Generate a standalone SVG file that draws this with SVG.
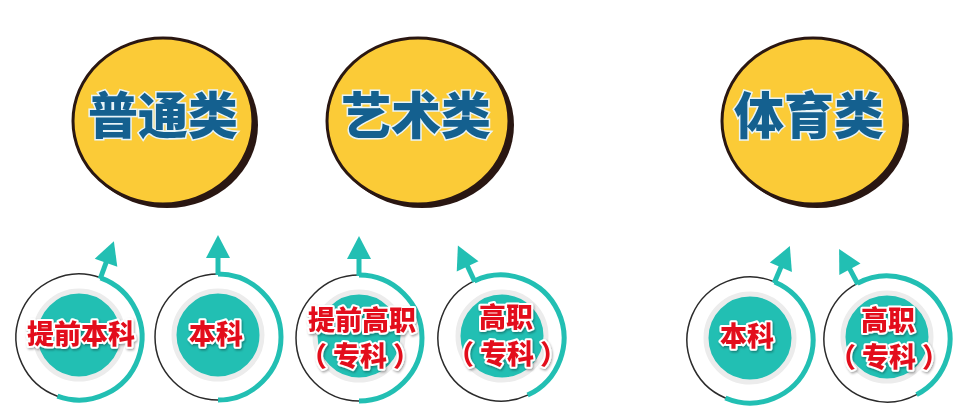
<svg xmlns="http://www.w3.org/2000/svg" xmlns:xlink="http://www.w3.org/1999/xlink" width="971" height="415" viewBox="0 0 971 415">
<style>
.blob{fill:#fbcb37;stroke:#2a1712;stroke-width:3}
.blobsh{fill:#2a1712}
.title{font-family:"Noto Sans CJK SC","Noto Sans",sans-serif;font-weight:900;font-size:50px;fill:#14608f;stroke:#e8f4f8;stroke-width:3;paint-order:stroke;text-anchor:middle}
.lbl{font-family:"Noto Sans CJK SC","Noto Sans",sans-serif;font-weight:900;font-size:27px;fill:#e3111b;stroke:#ffffff;stroke-width:4;paint-order:stroke;stroke-linejoin:round;text-anchor:middle}
.inner{fill:#22bfb3;stroke:#ececec;stroke-width:5}
.teal{stroke:#22bfb3;fill:none;stroke-width:5}
</style>
<defs>
<filter id="sh" x="-10%" y="-10%" width="120%" height="130%">
<feDropShadow dx="1" dy="1.5" stdDeviation="1" flood-color="#000" flood-opacity="0.35"/>
</filter>
<g id="ring">
<circle r="63" fill="none" stroke="#2b2b2b" stroke-width="1.5"/>
<path class="teal" d="M0,-63 A63,63 0 0 1 0,63"/>
<line class="teal" x1="0" y1="-62" x2="0" y2="-80"/>
<polygon points="0,-102 -12,-79 12,-79" fill="#22bfb3"/>
</g>
</defs>
<rect width="971" height="415" fill="#ffffff"/>

<g id="putong">
<ellipse class="blobsh" cx="167" cy="125" rx="91" ry="83"/>
<ellipse class="blob" cx="163" cy="121" rx="90" ry="83"/>
<text class="title" x="163" y="134">普通类</text>
</g>
<g id="yishu">
<ellipse class="blobsh" cx="422" cy="125" rx="92" ry="83"/>
<ellipse class="blob" cx="418" cy="121" rx="91" ry="83"/>
<text class="title" x="416" y="134">艺术类</text>
</g>
<g id="tiyu">
<ellipse class="blobsh" cx="817" cy="125" rx="92" ry="83"/>
<ellipse class="blob" cx="813" cy="121" rx="91" ry="83"/>
<text class="title" x="809" y="134">体育类</text>
</g>

<g id="connectors">
<use xlink:href="#ring" href="#ring" transform="translate(79,337) rotate(20)"/>
<use xlink:href="#ring" href="#ring" transform="translate(218,337)"/>
<use xlink:href="#ring" href="#ring" transform="translate(359,338)"/>
<use xlink:href="#ring" href="#ring" transform="translate(501,338) rotate(-25)"/>
<use xlink:href="#ring" href="#ring" transform="translate(750,340) rotate(23)"/>
<use xlink:href="#ring" href="#ring" transform="translate(887,339) rotate(-28)"/>
</g>

<g id="n1">
<circle class="inner" cx="79" cy="335" r="44"/>
<text class="lbl" x="81" y="344" filter="url(#sh)">提前本科</text>
</g>
<g id="n2">
<circle class="inner" cx="218" cy="335" r="44"/>
<text class="lbl" x="216" y="344" filter="url(#sh)">本科</text>
</g>
<g id="n3">
<circle class="inner" cx="359" cy="336" r="44"/>
<text class="lbl" x="362" y="330" filter="url(#sh)">提前高职</text>
<text class="lbl" x="360" y="366" filter="url(#sh)">（<tspan dx="6">专科</tspan><tspan dx="6">）</tspan></text>
</g>
<g id="n4">
<circle class="inner" cx="502" cy="336" r="44"/>
<text class="lbl" x="506" y="327" filter="url(#sh)">高职</text>
<text class="lbl" x="507" y="364" filter="url(#sh)">（<tspan dx="6">专科</tspan><tspan dx="6">）</tspan></text>
</g>
<g id="n5">
<circle class="inner" cx="750" cy="338" r="44"/>
<text class="lbl" x="747" y="346" filter="url(#sh)">本科</text>
</g>
<g id="n6">
<circle class="inner" cx="887" cy="337" r="44"/>
<text class="lbl" x="888" y="330" filter="url(#sh)">高职</text>
<text class="lbl" x="889" y="367" filter="url(#sh)">（<tspan dx="6">专科</tspan><tspan dx="6">）</tspan></text>
</g>
</svg>
